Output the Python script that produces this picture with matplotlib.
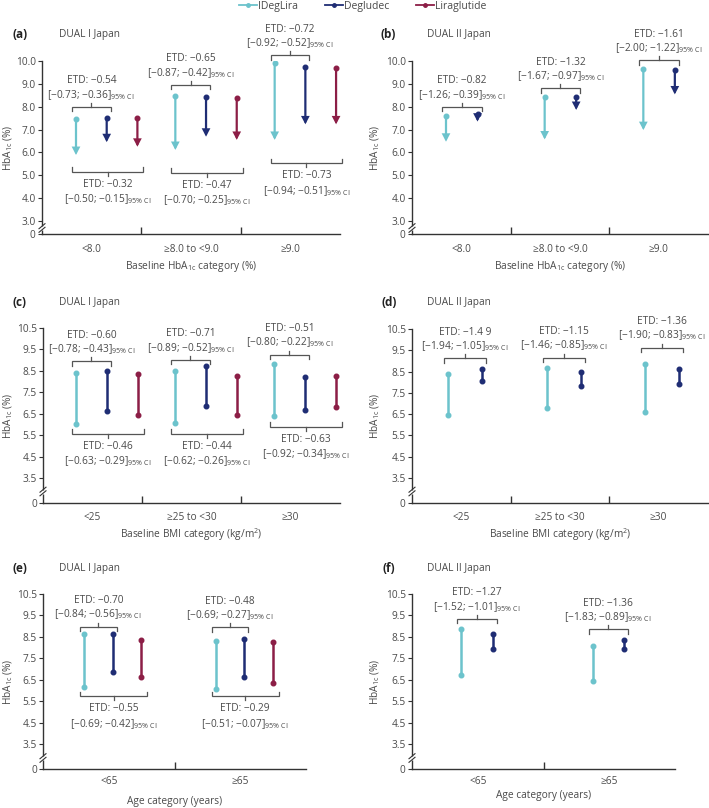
import matplotlib
matplotlib.use("Agg")
import matplotlib.pyplot as plt
from matplotlib.lines import Line2D

plt.rcParams['font.family'] = ['Open Sans', 'DejaVu Sans']
plt.rcParams['mathtext.fontset'] = 'dejavusans'

# ---------------- data ----------------
series_names = ["IDegLira", "Degludec", "Liraglutide"]

cats_hba1c = ["<8.0", "\u22658.0 to <9.0", "\u22659.0"]
cats_bmi = ["<25", "\u226525 to <30", "\u226530"]
cats_age = ["<65", "\u226565"]

# (a) DUAL I Japan, baseline HbA1c
a_idl_base = [7.45, 8.48, 9.93]
a_idl_end = [5.89, 6.11, 6.55]
a_deg_base = [7.49, 8.44, 9.72]
a_deg_end = [6.45, 6.69, 7.23]
a_lira_base = [7.49, 8.40, 9.68]
a_lira_end = [6.25, 6.55, 7.23]
a_up_etd = ["ETD: \u22120.54", "ETD: \u22120.65", "ETD: \u22120.72"]
a_up_ci = ["[\u22120.73; \u22120.36]", "[\u22120.87; \u22120.42]", "[\u22120.92; \u22120.52]"]
a_lo_etd = ["ETD: \u22120.32", "ETD: \u22120.47", "ETD: \u22120.73"]
a_lo_ci = ["[\u22120.50; \u22120.15]", "[\u22120.70; \u22120.25]", "[\u22120.94; \u22120.51]"]

# (b) DUAL II Japan, baseline HbA1c
b_idl_base = [7.61, 8.41, 9.64]
b_idl_end = [6.47, 6.57, 6.98]
b_deg_base = [7.67, 8.41, 9.61]
b_deg_end = [7.35, 7.86, 8.54]
b_up_etd = ["ETD: \u22120.82", "ETD: \u22121.32", "ETD: \u22121.61"]
b_up_ci = ["[\u22121.26; \u22120.39]", "[\u22121.67; \u22120.97]", "[\u22122.00; \u22121.22]"]

# (c) DUAL I Japan, baseline BMI
c_idl_base = [8.40, 8.51, 8.84]
c_idl_end = [6.02, 6.05, 6.38]
c_deg_base = [8.51, 8.71, 8.23]
c_deg_end = [6.63, 6.86, 6.69]
c_lira_base = [8.35, 8.28, 8.28]
c_lira_end = [6.46, 6.43, 6.83]
c_up_etd = ["ETD: \u22120.60", "ETD: \u22120.71", "ETD: \u22120.51"]
c_up_ci = ["[\u22120.78; \u22120.43]", "[\u22120.89; \u22120.52]", "[\u22120.80; \u22120.22]"]
c_lo_etd = ["ETD: \u22120.46", "ETD: \u22120.44", "ETD: \u22120.63"]
c_lo_ci = ["[\u22120.63; \u22120.29]", "[\u22120.62; \u22120.26]", "[\u22120.92; \u22120.34]"]

# (d) DUAL II Japan, baseline BMI
d_idl_base = [8.37, 8.68, 8.84]
d_idl_end = [6.44, 6.79, 6.60]
d_deg_base = [8.64, 8.50, 8.64]
d_deg_end = [8.08, 7.83, 7.91]
d_up_etd = ["ETD: \u22121.4 9", "ETD: \u22121.15", "ETD: \u22121.36"]
d_up_ci = ["[\u22121.94; \u22121.05]", "[\u22121.46; \u22120.85]", "[\u22121.90; \u22120.83]"]

# (e) DUAL I Japan, age
e_idl_base = [8.65, 8.31]
e_idl_end = [6.14, 6.07]
e_deg_base = [8.65, 8.39]
e_deg_end = [6.84, 6.62]
e_lira_base = [8.36, 8.26]
e_lira_end = [6.62, 6.34]
e_up_etd = ["ETD: \u22120.70", "ETD: \u22120.48"]
e_up_ci = ["[\u22120.84; \u22120.56]", "[\u22120.69; \u22120.27]"]
e_lo_etd = ["ETD: \u22120.55", "ETD: \u22120.29"]
e_lo_ci = ["[\u22120.69; \u22120.42]", "[\u22120.51; \u22120.07]"]

# (f) DUAL II Japan, age
f_idl_base = [8.85, 8.05]
f_idl_end = [6.73, 6.46]
f_deg_base = [8.63, 8.33]
f_deg_end = [7.92, 7.92]
f_up_etd = ["ETD: \u22121.27", "ETD: \u22121.36"]
f_up_ci = ["[\u22121.52; \u22121.01]", "[\u22121.83; \u22120.89]"]

yticks_hba1c = [3.0, 4.0, 5.0, 6.0, 7.0, 8.0, 9.0, 10.0]
yticks_bmi = [3.5, 4.5, 5.5, 6.5, 7.5, 8.5, 9.5, 10.5]

# ---------------- layout / style ----------------
W, H = 709, 808
C_IDL = '#6cc3cc'
C_DEG = '#1f2d74'
C_LIRA = '#8c1e46'
TXT = '#4a4a4a'
BR = '#555555'
SP = '#333333'
FS = 7.3
PT = 1.389  # px per point at dpi 100

fig = plt.figure(figsize=(W / 100, H / 100), dpi=100)


def ci_label(s):
    return s + r"$_{\mathregular{95\%\ CI}}$"


def panel(rect, first, sstep, ylo, yhi, yticks, cats, series, arrows,
          up_y, up_etd, up_ci, lo_y, lo_etd, lo_ci, brk_px,
          letter, study, letter_xy, xtitle, cat_dy, title_dy, ylab_dx):
    l, t, r, b = rect
    wpx, hpx = r - l, b - t
    ax = fig.add_axes([l / W, 1 - b / H, wpx / W, hpx / H])
    ax.set_xlim(0, wpx)
    ax.set_ylim(ylo, yhi)
    ncat = len(cats)
    gstep = wpx / ncat
    ppu = hpx / (yhi - ylo)

    for s, (base, end, col) in enumerate(series):
        for g, (b0, e0) in enumerate(zip(base, end)):
            x = first + g * gstep + s * sstep
            if arrows:
                ax.annotate('', xy=(x, e0), xytext=(x, b0),
                            arrowprops=dict(arrowstyle='-|>,head_length=0.5,head_width=0.26',
                                            color=col, lw=1.6, shrinkA=0, shrinkB=0,
                                            mutation_scale=7, joinstyle='miter'),
                            annotation_clip=False)
                ax.plot([x], [b0], 'o', color=col, ms=3.3, zorder=4)
            else:
                ax.plot([x, x], [b0, e0], '-', color=col, lw=1.8, zorder=3)
                ax.plot([x, x], [b0, e0], 'o', color=col, ms=3.3, zorder=4)

    def bracket(g, y, sidx_right, up, etd, ci):
        x0 = first + g * gstep - 4
        x1 = first + g * gstep + sidx_right * sstep + (4 if up else 6)
        sgn = 1 if up else -1
        e = 4.5 / ppu
        tk = 4.0 / ppu
        ax.plot([x0, x0, x1, x1], [y - sgn * e, y, y, y - sgn * e], color=BR, lw=0.9,
                clip_on=False, solid_joinstyle='miter')
        xc = (x0 + x1) / 2
        ax.plot([xc, xc], [y, y + sgn * tk], color=BR, lw=0.9, clip_on=False)
        d1, d2 = (26, 12) if up else (-12.5, -27.5)
        ax.annotate(etd, xy=(xc, y), xytext=(0, d1 / PT), textcoords='offset points',
                    ha='center', va='center', fontsize=FS, color=TXT, annotation_clip=False)
        ax.annotate(ci_label(ci), xy=(xc, y), xytext=(0, d2 / PT), textcoords='offset points',
                    ha='center', va='center', fontsize=FS, color=TXT, annotation_clip=False)

    for g in range(ncat):
        bracket(g, up_y[g], 1, True, up_etd[g], up_ci[g])
        if lo_y is not None:
            bracket(g, lo_y[g], 2, False, lo_etd[g], lo_ci[g])

    # axes styling
    for sp in ['top', 'right']:
        ax.spines[sp].set_visible(False)
    for sp in ['left', 'bottom']:
        ax.spines[sp].set_color(SP)
        ax.spines[sp].set_linewidth(1.0)
    ax.set_yticks([ylo] + yticks)
    ax.set_yticklabels(['0'] + ['%.1f' % v for v in yticks], fontsize=FS, color=TXT)
    ax.tick_params(axis='y', length=3, width=0.8, color=SP, pad=1.5, direction='out')
    seps = [gstep * k for k in range(1, ncat)]
    ax.set_xticks(seps)
    ax.set_xticklabels([''] * len(seps))
    ax.tick_params(axis='x', length=5, width=1.0, color=SP, direction='in')

    for k, c in enumerate(cats):
        ax.annotate(c, xy=((k + 0.5) * gstep, 0), xycoords=('data', 'axes fraction'),
                    xytext=(0, -cat_dy / PT), textcoords='offset points',
                    ha='center', va='center', fontsize=FS, color=TXT, annotation_clip=False)
    ax.annotate(xtitle, xy=(0.5, 0), xycoords='axes fraction',
                xytext=(0, -title_dy / PT), textcoords='offset points',
                ha='center', va='center', fontsize=FS, color=TXT, annotation_clip=False)
    ax.annotate(r"HbA$_{\mathregular{1c}}$ (%)", xy=(0, 0.5), xycoords='axes fraction',
                xytext=(-ylab_dx / PT, 0), textcoords='offset points', rotation=90,
                ha='center', va='center', fontsize=FS, color=TXT, annotation_clip=False)

    # axis break marks
    yb = brk_px / hpx
    ax.plot([0, 0], [yb - 2.0 / hpx, yb + 2.0 / hpx], color='white', lw=2.5,
            transform=ax.transAxes, clip_on=False, zorder=5, solid_capstyle='butt')
    for off in (-1.8, 1.8):
        ax.plot([-3 / wpx, 3 / wpx], [yb + (off - 2.5) / hpx, yb + (off + 2.5) / hpx],
                color=SP, lw=0.8, transform=ax.transAxes, clip_on=False, zorder=6)

    lx, ly, sx = letter_xy
    fig.text(lx / W, 1 - ly / H, letter, fontsize=8.5, fontweight='bold', color='#222222',
             ha='left', va='center')
    fig.text(sx / W, 1 - ly / H, study, fontsize=FS, color=TXT, ha='left', va='center')
    return ax


xt_hba1c = r"Baseline HbA$_{\mathregular{1c}}$ category (%)"
xt_bmi = r"Baseline BMI category (kg/m$^{\mathregular{2}}$)"
xt_age = "Age category (years)"

# (a)
panel((42, 61, 340, 234), 34, 30.7, 2.43, 10.0, yticks_hba1c, cats_hba1c,
      [(a_idl_base, a_idl_end, C_IDL), (a_deg_base, a_deg_end, C_DEG), (a_lira_base, a_lira_end, C_LIRA)],
      True, [8.0, 8.95, 10.26], a_up_etd, a_up_ci, [5.16, 5.12, 5.52], a_lo_etd, a_lo_ci, 6,
      "(a)", "DUAL I Japan", (12, 34, 59), xt_hba1c, 16, 33, 34)
# (b)
panel((412, 61, 708, 234), 34, 31.5, 2.43, 10.0, yticks_hba1c, cats_hba1c,
      [(b_idl_base, b_idl_end, C_IDL), (b_deg_base, b_deg_end, C_DEG)],
      True, [8.0, 8.80, 10.04], b_up_etd, b_up_ci, None, None, None, 6,
      "(b)", "DUAL II Japan", (380, 34, 427), xt_hba1c, 16, 33, 37)
# (c)
panel((43, 328, 340, 503), 33, 30.8, 2.33, 10.5, yticks_bmi, cats_bmi,
      [(c_idl_base, c_idl_end, C_IDL), (c_deg_base, c_deg_end, C_DEG), (c_lira_base, c_lira_end, C_LIRA)],
      False, [8.94, 9.02, 9.26], c_up_etd, c_up_ci, [5.57, 5.57, 5.88], c_lo_etd, c_lo_ci, 11.5,
      "(c)", "DUAL I Japan", (12, 303, 59), xt_bmi, 15, 32, 35)
# (d)
panel((412, 329, 708, 503), 36, 34.0, 2.33, 10.5, yticks_bmi, cats_bmi,
      [(d_idl_base, d_idl_end, C_IDL), (d_deg_base, d_deg_end, C_DEG)],
      False, [9.13, 9.16, 9.63], d_up_etd, d_up_ci, None, None, None, 11.5,
      "(d)", "DUAL II Japan", (381, 303, 427), xt_bmi, 15, 32, 37)
# (e)
panel((43, 594, 306, 769), 41, 28.7, 2.33, 10.5, yticks_bmi, cats_age,
      [(e_idl_base, e_idl_end, C_IDL), (e_deg_base, e_deg_end, C_DEG), (e_lira_base, e_lira_end, C_LIRA)],
      False, [8.98, 8.95], e_up_etd, e_up_ci, [5.72, 5.72], e_lo_etd, e_lo_ci, 11,
      "(e)", "DUAL I Japan", (12, 568, 59), xt_age, 13, 33, 35)
# (f)
panel((412, 594, 675, 769), 49, 31.6, 2.33, 10.5, yticks_bmi, cats_age,
      [(f_idl_base, f_idl_end, C_IDL), (f_deg_base, f_deg_end, C_DEG)],
      False, [9.34, 8.85], f_up_etd, f_up_ci, None, None, None, 11,
      "(f)", "DUAL II Japan", (382, 568, 427), xt_age, 13, 27, 37)

handles = [Line2D([0], [0], color=c, lw=1.3, marker='o', ms=2.5)
           for c in (C_IDL, C_DEG, C_LIRA)]
leg = fig.legend(handles, series_names, loc='upper center', bbox_to_anchor=(0.512, 1.0),
                 ncol=3, frameon=False, fontsize=7.5, handlelength=1.7, handletextpad=0.1,
                 columnspacing=2.6, borderaxespad=0.0, borderpad=0.1)
for tx in leg.get_texts():
    tx.set_color(TXT)

fig.savefig("out.png", dpi=100)
